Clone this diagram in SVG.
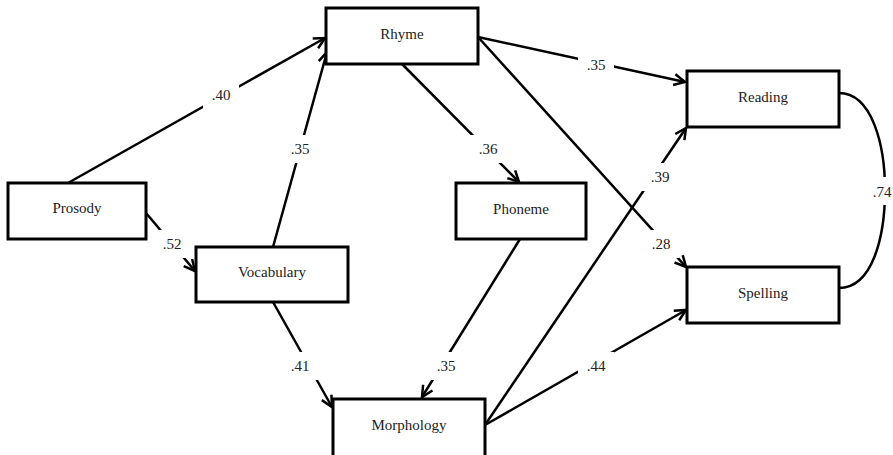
<svg xmlns="http://www.w3.org/2000/svg" width="893" height="455" viewBox="0 0 893 455">
<defs>
<style>
.box{fill:#fff;stroke:#000;stroke-width:3}
.edge{fill:none;stroke:#000;stroke-width:2.5}
.lbl{font-family:"Liberation Serif","Times New Roman",serif;font-size:15px;fill:#222;text-anchor:middle}
.gap{fill:#fff}
</style>
<marker id="arr" viewBox="-13 -7 15 14" markerWidth="15" markerHeight="14" refX="0" refY="0" orient="auto" markerUnits="userSpaceOnUse">
<path d="M-11,-5.5 L0,0 L-11,5.5" fill="none" stroke="#000" stroke-width="2.5"/>
</marker>
</defs>
<rect width="893" height="455" fill="#fff"/>
<g id="connectors">
<line class="edge" x1="68" y1="183" x2="325" y2="38" marker-end="url(#arr)"/>
<line class="edge" x1="273" y1="247" x2="327" y2="52" marker-end="url(#arr)"/>
<line class="edge" x1="146" y1="213" x2="195" y2="271" marker-end="url(#arr)"/>
<line class="edge" x1="273" y1="302" x2="332" y2="407" marker-end="url(#arr)"/>
<line class="edge" x1="402" y1="64" x2="519" y2="182" marker-end="url(#arr)"/>
<line class="edge" x1="520" y1="239" x2="422" y2="397" marker-end="url(#arr)"/>
<line class="edge" x1="478" y1="37" x2="685" y2="82" marker-end="url(#arr)"/>
<line class="edge" x1="478" y1="37" x2="686" y2="267" marker-end="url(#arr)"/>
<line class="edge" x1="485" y1="425" x2="686" y2="128" marker-end="url(#arr)"/>
<line class="edge" x1="485" y1="425" x2="686" y2="310" marker-end="url(#arr)"/>
<path class="edge" d="M839,93 C872,93 885,145 885,190 C885,238 872,288 839,288"/>
<g id="label-gaps">
<rect class="gap" x="203" y="81" width="36" height="28"/>
<rect class="gap" x="282" y="135" width="36" height="28"/>
<rect class="gap" x="154" y="230" width="36" height="28"/>
<rect class="gap" x="282" y="352" width="36" height="28"/>
<rect class="gap" x="470" y="135" width="36" height="28"/>
<rect class="gap" x="428" y="352" width="36" height="28"/>
<rect class="gap" x="578" y="51" width="36" height="28"/>
<rect class="gap" x="643" y="230" width="36" height="28"/>
<rect class="gap" x="642" y="163" width="36" height="28"/>
<rect class="gap" x="578" y="352" width="36" height="28"/>
<rect class="gap" x="868" y="177" width="25" height="28"/>
</g>
<g id="edge-labels">
<text class="lbl" x="221" y="100">.40</text>
<text class="lbl" x="300" y="154">.35</text>
<text class="lbl" x="172" y="249">.52</text>
<text class="lbl" x="300" y="371">.41</text>
<text class="lbl" x="488" y="154">.36</text>
<text class="lbl" x="446" y="371">.35</text>
<text class="lbl" x="596" y="70">.35</text>
<text class="lbl" x="661" y="249">.28</text>
<text class="lbl" x="660" y="182">.39</text>
<text class="lbl" x="596" y="371">.44</text>
<text class="lbl" x="882" y="197">.74</text>
</g>
</g>
<g id="rhyme"><rect class="box" x="326" y="8" width="152" height="56"/><text class="lbl" x="402" y="39">Rhyme</text></g>
<g id="prosody"><rect class="box" x="8" y="183" width="138" height="56"/><text class="lbl" x="77" y="213">Prosody</text></g>
<g id="vocabulary"><rect class="box" x="196" y="247" width="152" height="55"/><text class="lbl" x="272" y="277">Vocabulary</text></g>
<g id="phoneme"><rect class="box" x="456" y="183" width="130" height="56"/><text class="lbl" x="521" y="214">Phoneme</text></g>
<g id="morphology"><rect class="box" x="333" y="399" width="152" height="58"/><text class="lbl" x="409" y="430">Morphology</text></g>
<g id="reading"><rect class="box" x="687" y="71" width="152" height="56"/><text class="lbl" x="763" y="102">Reading</text></g>
<g id="spelling"><rect class="box" x="687" y="267" width="152" height="56"/><text class="lbl" x="763" y="298">Spelling</text></g>
</svg>
